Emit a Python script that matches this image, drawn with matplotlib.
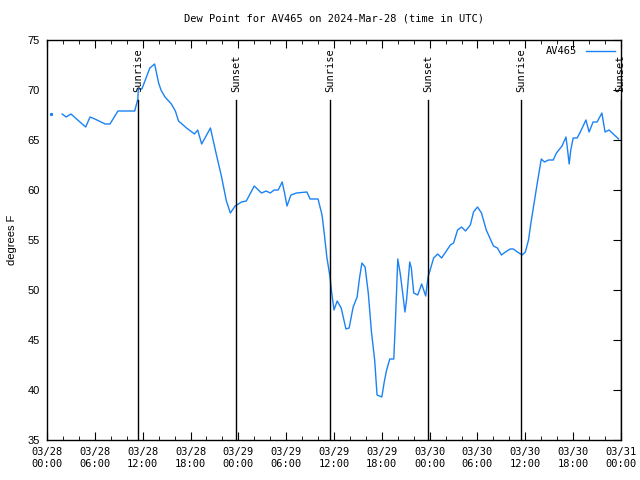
import numpy as np
import matplotlib
matplotlib.use("Agg")
import matplotlib.pyplot as plt

# hours since 2024-03-28 00:00 UTC and dew point (F)
hours = [0.46, np.nan, 1.9, 2.4, 3.0, 4.85, 5.4, 6.0, 7.3, 7.9, 8.9, 11.0, 11.4, 11.45,
         11.9, 12.9, 13.5, 14.0, 14.3, 14.8, 15.6, 16.1, 16.5, 17.5, 18.5, 18.9, 19.4,
         20.5, 21.2, 21.9, 22.5, 23.0, 23.6, 24.4, 25.0, 26.0, 26.9, 27.5, 28.0, 28.5,
         29.0, 29.5, 29.8, 30.1, 30.6, 31.3, 32.6, 33.0, 34.0, 34.5, 34.8, 35.1, 35.5,
         35.7, 36.0, 36.4, 36.9, 37.5, 37.9, 38.4, 38.9, 39.2, 39.5, 39.9, 40.3, 40.7,
         41.1, 41.4, 42.0, 42.3, 42.6, 43.0, 43.5, 43.7, 44.0, 44.3, 44.6, 44.9, 45.1,
         45.5, 45.7, 46.0, 46.5, 47.0, 47.5, 47.8, 48.5, 49.0, 49.5, 50.6, 51.0, 51.5,
         52.0, 52.5, 53.1, 53.5, 54.0, 54.5, 55.1, 55.6, 56.0, 56.5, 57.0, 57.5, 58.1,
         58.5, 59.0, 59.6, 60.0, 60.4, 60.7, 61.1, 61.5, 62.0, 62.4, 62.9, 63.5, 63.9,
         64.6, 65.1, 65.3, 65.5, 65.7, 66.0, 66.5, 66.9, 67.6, 68.0, 68.5, 69.0, 69.6,
         70.0, 70.5, 71.7]
dewpoint = [67.6, np.nan, 67.6, 67.3, 67.6, 66.3, 67.3, 67.1, 66.6, 66.6, 67.9, 67.9, 69.1, 70.1,
            70.1, 72.2, 72.6, 70.7, 70.0, 69.3, 68.6, 67.9, 66.9, 66.2, 65.6, 66.0, 64.6,
            66.2, 63.7, 61.3, 58.9, 57.7, 58.4, 58.8, 58.9, 60.4, 59.7, 59.9, 59.7, 60.0,
            60.0, 60.8, 59.7, 58.4, 59.5, 59.7, 59.8, 59.1, 59.1, 57.5, 55.5, 53.3, 51.3,
            49.8, 48.0, 48.9, 48.2, 46.1, 46.2, 48.3, 49.3, 51.2, 52.7, 52.3, 49.7, 45.8,
            43.0, 39.5, 39.3, 40.8, 42.0, 43.1, 43.1, 46.8, 53.1, 51.7, 49.8, 47.8, 49.0,
            52.8, 52.2, 49.7, 49.5, 50.6, 49.4, 51.3, 53.2, 53.6, 53.2, 54.5, 54.7, 56.0,
            56.3, 55.9, 56.5, 57.8, 58.3, 57.7, 56.0, 55.1, 54.4, 54.2, 53.5, 53.8, 54.1,
            54.1, 53.8, 53.5, 53.8, 55.0, 56.7, 58.7, 60.7, 63.1, 62.8, 63.0, 63.0, 63.7,
            64.4, 65.3, 64.0, 62.6, 64.0, 65.2, 65.2, 65.8, 67.0, 65.8, 66.8, 66.8, 67.7,
            65.8, 66.0, 65.1]

sun_hours = [11.42, 23.7, 35.5, 47.8, 59.5, 71.95]
sun_labels = ["Sunrise", "Sunset", "Sunrise", "Sunset", "Sunrise", "Sunset"]

tick_labels = ["03/28\n00:00", "03/28\n06:00", "03/28\n12:00", "03/28\n18:00",
               "03/29\n00:00", "03/29\n06:00", "03/29\n12:00", "03/29\n18:00",
               "03/30\n00:00", "03/30\n06:00", "03/30\n12:00", "03/30\n18:00",
               "03/31\n00:00"]

mono = "DejaVu Sans Mono"
sans = "Liberation Sans"
blue = "#1a82f5"

fig = plt.figure(figsize=(6.4, 4.8), dpi=100)
ax = fig.add_axes([47/640, 40/480, 574/640, 400/480])

ax.plot(hours, dewpoint, color=blue, lw=1, label="AV465")
# isolated first reading shows as a single dot
ax.plot(hours[:1], dewpoint[:1], color=blue, ls="none", marker="s", markersize=1.2)

for h, lab in zip(sun_hours, sun_labels):
	ax.plot([h, h], [35, 69], color="black", lw=1.0)
	ax.text(h, 69.8, lab, rotation=90, ha="center", va="bottom",
		fontsize=7.5, family=mono)

ax.set_xlim(0, 72)
ax.set_ylim(35, 75)
ax.set_xticks(np.arange(0, 73, 6))
ax.set_xticks(np.arange(0, 73, 2), minor=True)
ax.set_xticklabels(tick_labels, family=mono, fontsize=7.5)
ax.set_yticks(np.arange(35, 76, 5))
for t in ax.get_yticklabels():
	t.set_family(sans)
	t.set_fontsize(8)

ax.tick_params(axis="x", which="major", direction="in", length=6, top=True, pad=5)
ax.tick_params(axis="x", which="minor", direction="in", length=3, top=True)
ax.tick_params(axis="y", direction="in", length=6, left=False, right=True, pad=5)

ax.set_ylabel("degrees F", family=sans, fontsize=8, labelpad=8)
ax.set_title("Dew Point for AV465 on 2024-Mar-28 (time in UTC)",
	family=mono, fontsize=7.5, pad=13)

ax.legend(loc="upper right", frameon=False, markerfirst=False,
	prop={"family": mono, "size": 7.5}, handlelength=2.8,
	borderaxespad=0.2, handletextpad=0.8)

for s in ax.spines.values():
	s.set_linewidth(1)

fig.savefig("out.png", dpi=100)
